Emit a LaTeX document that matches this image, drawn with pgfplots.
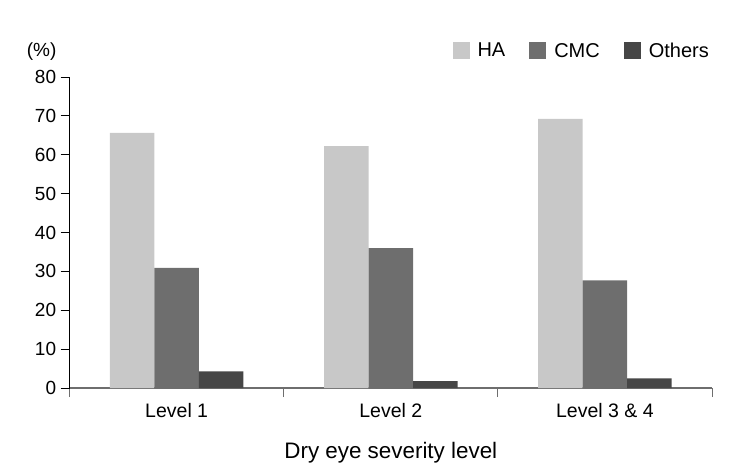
\documentclass[border=0pt]{standalone}
\usepackage{pgfplots}
\pgfplotsset{compat=1.18}
\usepackage{fontspec}
\setmainfont{Liberation Sans}
\definecolor{cHA}{RGB}{200,200,200}
\definecolor{cCMC}{RGB}{110,110,110}
\definecolor{cOth}{RGB}{70,70,70}
\definecolor{axgray}{RGB}{110,110,110}
\begin{document}
\begin{tikzpicture}
\useasboundingbox (-69.6bp,-86bp) rectangle (668.4bp,388bp);
\begin{axis}[
  scale only axis,
  width=642.4bp, height=311bp,
  xmin=0.5, xmax=3.5, ymin=0, ymax=80,
  ybar=0pt, bar width=44.5bp,
  axis x line*=bottom, axis y line*=left,
  x axis line style={draw=axgray, line width=1.2pt, -},
  y axis line style={draw=black, line width=0.8pt, -},
  ytick={0,10,...,80},
  xtick={0.5,1.5,2.5,3.5},
  xticklabels={},
  extra x ticks={1,2,3},
  extra x tick labels={Level 1,Level 2,Level 3 \& 4},
  extra x tick style={major tick length=0pt, tick label style={font=\fontsize{19.5bp}{22bp}\selectfont, yshift=-12bp}},
  major tick length=9bp,
  tick align=outside,
  x tick style={draw=axgray, line width=0.8pt},
  y tick style={draw=black, line width=0.8pt},
  /pgf/number format/assume math mode=true,
  yticklabel style={font=\fontsize{19bp}{22bp}\selectfont, xshift=-1bp},
  xlabel={Dry eye severity level},
  xlabel style={font=\fontsize{22.4bp}{26bp}\selectfont, yshift=-9bp},
  legend style={draw=none, at={(1,1)}, anchor=south east, yshift=14bp, xshift=2bp,
    legend columns=3, font=\fontsize{20bp}{24bp}\selectfont,
    /tikz/every even column/.append style={column sep=22bp},
    /tikz/every odd column/.append style={column sep=6bp}},
  legend image code/.code={\fill[#1] (0bp,-8.5bp) rectangle (17bp,8.5bp);},
  clip=false,
]
\addplot[fill=cHA, draw=none] coordinates {(1,65.6) (2,62.2) (3,69.2)};
\addplot[fill=cCMC, draw=none] coordinates {(1,30.9) (2,36.0) (3,27.7)};
\addplot[fill=cOth, draw=none] coordinates {(1,4.3) (2,1.8) (3,2.5)};
\legend{HA,CMC,Others}
\node[anchor=center, font=\fontsize{19bp}{22bp}\selectfont] at ([xshift=-28bp, yshift=25bp]rel axis cs:0,1) {(\%)};
\end{axis}
\end{tikzpicture}
\end{document}
